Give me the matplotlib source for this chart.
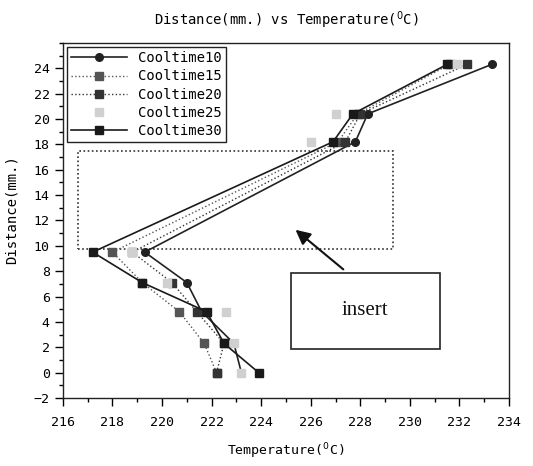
import matplotlib.pyplot as plt
from matplotlib.patches import Rectangle
from matplotlib.ticker import MultipleLocator

# distance rows (mm.)
distance = [0, 2.3, 4.8, 7.1, 9.5, 18.2, 20.4, 24.3]

# temperature readings for each cool time
cool10 = [223.2, 222.9, 221.6, 221.0, 219.3, 227.8, 228.3, 233.3]
cool15 = [222.2, 221.7, 220.7, 219.2, 218.0, 227.1, 227.9, 231.6]
cool20 = [222.2, 222.5, 221.4, 220.4, 218.8, 227.4, 228.0, 232.3]
cool25 = [223.2, 222.9, 222.6, 220.2, 218.8, 226.0, 227.0, 231.9]
cool30 = [223.9, 222.5, 221.8, 219.2, 217.2, 226.9, 227.7, 231.5]

mono = "DejaVu Sans Mono"

fig = plt.figure(figsize=(5.33, 4.66), dpi=100)
ax = fig.add_axes([0.118, 0.146, 0.837, 0.762])

ax.plot(cool10, distance, color="#222222", lw=1.2, marker="o", ms=5.5, label="Cooltime10")
ax.plot(cool15, distance, color="#555555", lw=1.0, ls=":", marker="s", ms=5.5, label="Cooltime15")
ax.plot(cool20, distance, color="#333333", lw=1.0, ls=":", marker="s", ms=5.5, label="Cooltime20")
ax.plot(cool25, distance, color="#d0d0d0", lw=0.8, ls="", marker="s", ms=5.5, label="Cooltime25")
ax.plot(cool30, distance, color="#1a1a1a", lw=1.2, marker="s", ms=5.5, label="Cooltime30")

# annotations on the scanned page
ax.add_patch(Rectangle((216.6, 9.75), 12.7, 7.75, fill=False, ls=(0, (1, 1.5)),
                       lw=1.2, color="#333333"))
ax.add_patch(Rectangle((225.2, 1.9), 6.0, 5.95, fill=False, lw=1.2, color="#222222"))
ax.text(228.2, 4.9, "insert", family="Liberation Serif", fontsize=15,
        ha="center", va="center", color="#111111")
ax.annotate("", xy=(225.3, 11.4), xytext=(227.4, 8.0),
            arrowprops=dict(arrowstyle="-|>", color="#111111", lw=1.5,
                            mutation_scale=22))

ax.set_xlim(216, 234)
ax.set_ylim(-2, 26)
ax.xaxis.set_major_locator(MultipleLocator(2))
ax.xaxis.set_minor_locator(MultipleLocator(1))
ax.set_yticks(range(-2, 25, 2))
ax.yaxis.set_minor_locator(MultipleLocator(1))
ax.tick_params(which="major", length=6, width=1, direction="out", labelsize=9.5,
               top=False, right=False)
ax.tick_params(axis="x", which="major", pad=7)
ax.tick_params(which="minor", length=3, width=1, direction="out",
               top=False, right=False)
for lab in ax.get_xticklabels() + ax.get_yticklabels():
    lab.set_family(mono)

for s in ax.spines.values():
    s.set_color("#222222")
    s.set_linewidth(1.0)

ax.set_title(r"Distance(mm.) vs Temperature($^{0}$C)", family=mono, fontsize=10, pad=13)
ax.set_xlabel(r"Temperature($^{0}$C)", family=mono, fontsize=9.5, labelpad=9)
ax.set_ylabel("Distance(mm.)", family=mono, fontsize=10, labelpad=7)
ax.yaxis.set_label_coords(-0.1, 0.53)

leg = ax.legend(loc="upper left", prop={"family": mono, "size": 10}, fancybox=False,
                edgecolor="#222222", framealpha=1, borderpad=0.3, labelspacing=0.3,
                handlelength=4, borderaxespad=0.3)
leg.get_frame().set_linewidth(1.0)

fig.savefig("out.png", dpi=100)
